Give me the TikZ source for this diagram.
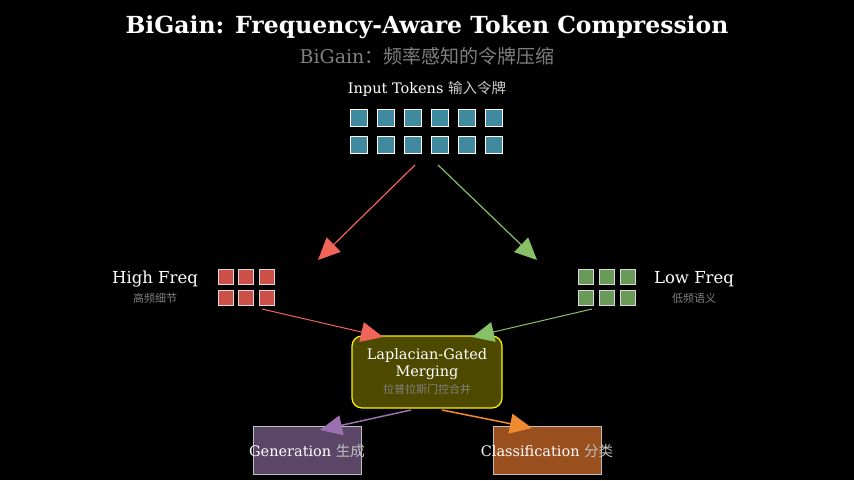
\documentclass[tikz,border=0pt]{standalone}
\usepackage{fontspec}
\setmainfont{DejaVu Serif}
\newfontfamily\cjk{Noto Sans CJK SC}
\usetikzlibrary{arrows.meta}
\definecolor{tok}{HTML}{3F8A9E}
\definecolor{hi}{HTML}{CC5048}
\definecolor{lo}{HTML}{6A9A58}
\definecolor{redA}{HTML}{F0645A}
\definecolor{grnA}{HTML}{88C068}
\definecolor{mergeF}{HTML}{4D4A00}
\definecolor{genF}{HTML}{5C4668}
\definecolor{clsF}{HTML}{9A4F1E}
\definecolor{purA}{HTML}{9A70B0}
\definecolor{orgA}{HTML}{F08A30}
\begin{document}
\begin{tikzpicture}[x=1pt,y=-1pt,
  tk/.style={draw=white,line width=0.8pt,minimum size=17pt,inner sep=0pt},
  sm/.style={draw=white!85!black,line width=0.8pt,minimum size=15pt,inner sep=0pt},
  lbl/.style={text=white,font=\fontsize{16.5}{16.5}\selectfont},
  sub/.style={text=gray,font=\cjk\fontsize{11}{11}\selectfont}]
\fill[black] (0,0) rectangle (854,480);
\node[text=white,font=\bfseries\fontsize{23.5}{23.5}\selectfont] (title) at (427,27) {BiGain: Frequency-Aware Token Compression};
\node[text=gray,font=\fontsize{19}{19}\selectfont] (subt) at (427,56) {BiGain{\cjk：频率感知的令牌压缩}};
\node[text=white,font=\fontsize{14.5}{14.5}\selectfont] (inlbl) at (427,89) {Input Tokens {\cjk\color{white!80!black}输入令牌}};
\foreach \i/\x in {1/359,2/386,3/413,4/440,5/467,6/494}{
  \node[tk,fill=tok] (a\i) at (\x,118) {};
  \node[tk,fill=tok] (b\i) at (\x,145) {};}
\foreach \i/\x in {1/226,2/246,3/267}{
  \node[sm,fill=hi] (h\i) at (\x,277) {};
  \node[sm,fill=hi] (hh\i) at (\x,298) {};}
\foreach \i/\x in {1/586,2/607,3/628}{
  \node[sm,fill=lo] (l\i) at (\x,277) {};
  \node[sm,fill=lo] (ll\i) at (\x,298) {};}
\node[lbl] (hf) at (155,279) {High Freq};
\node[sub] (hfs) at (155,298) {高频细节};
\node[lbl] (lf) at (694,279) {Low Freq};
\node[sub] (lfs) at (694,298) {低频语义};
\coordinate (hA) at (318,260);
\coordinate (lA) at (537,260);
\coordinate (inL) at (415,165);
\coordinate (inR) at (438,165);
\draw[line width=1.2pt,draw=redA,-{Triangle[length=22pt,width=20pt,fill=redA]}] (inL) -- (hA);
\draw[line width=1.2pt,draw=grnA,-{Triangle[length=22pt,width=20pt,fill=grnA]}] (inR) -- (lA);
\node[draw=yellow,line width=1.2pt,fill=mergeF,rounded corners=10pt,minimum width=150pt,minimum height=72pt] (m) at (427,372) {};
\node[text=white,align=center,font=\fontsize{14.5}{17}\selectfont] (mt) at (427,364) {Laplacian-Gated\\Merging};
\node[text=gray,font=\cjk\fontsize{11}{11}\selectfont] (ms) at (427,389) {拉普拉斯门控合并};
\coordinate (hs) at (262,309);
\coordinate (ls) at (592,309);
\draw[line width=1pt,draw=redA,-{Triangle[length=22pt,width=20pt,fill=redA]}] (hs) -- (383,337);
\draw[line width=1pt,draw=grnA,-{Triangle[length=22pt,width=20pt,fill=grnA]}] (ls) -- (472,337);
\node[draw=white!75!black,line width=0.8pt,fill=genF,minimum width=108pt,minimum height=48pt] (g) at (307,450) {};
\node[draw=white!75!black,line width=0.8pt,fill=clsF,minimum width=108pt,minimum height=48pt] (c) at (547,450) {};
\node[text=white,font=\fontsize{14.5}{14.5}\selectfont] (gt) at (307,451) {Generation {\cjk\color{white!75!black}生成}};
\node[text=white,font=\fontsize{14.5}{14.5}\selectfont] (ct) at (547,451) {Classification {\cjk\color{white!75!black}分类}};
\draw[line width=1.5pt,draw=purA,-{Triangle[length=22pt,width=20pt,fill=purA]}] (411,410) -- (320,430);
\draw[line width=1.5pt,draw=orgA,-{Triangle[length=22pt,width=20pt,fill=orgA]}] (442,410) -- (532,428);
\end{tikzpicture}
\end{document}
